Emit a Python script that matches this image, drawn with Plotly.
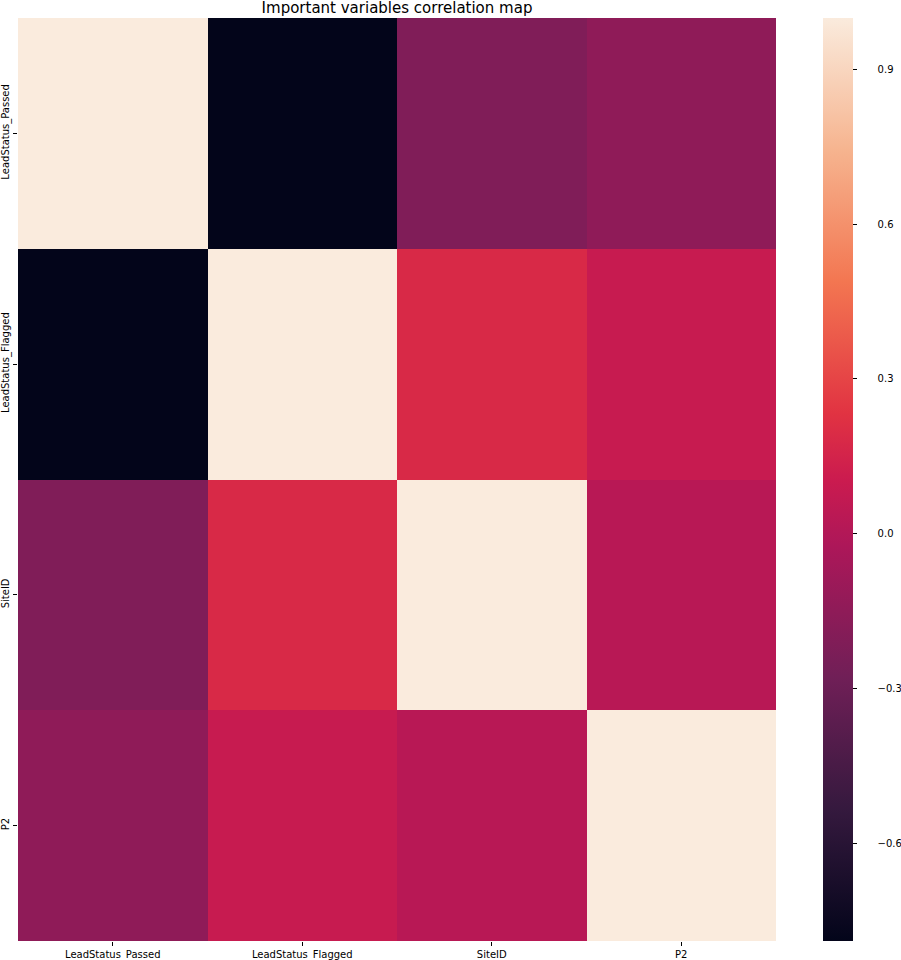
import plotly.graph_objects as go

labels = ["LeadStatus_Passed", "LeadStatus_Flagged", "SiteID", "P2"]
corr = [
    [1.00, -0.79, -0.21, -0.15],
    [-0.79, 1.00, 0.18, 0.09],
    [-0.21, 0.18, 1.00, 0.025],
    [-0.15, 0.09, 0.025, 1.00],
]
cbar_ticks = [-0.6, -0.3, 0.0, 0.3, 0.6, 0.9]
cbar_text = ["\u2007\u2007\u2007" + f"{v:.1f}".replace("-", "\u2212") for v in cbar_ticks]

rocket = [
    [0.0, "#03051a"],
    [1/7, "#35193e"],
    [2/7, "#701f57"],
    [3/7, "#ad1759"],
    [0.5, "#cb1b4f"],
    [4/7, "#e13342"],
    [5/7, "#f37651"],
    [6/7, "#f6b48f"],
    [1.0, "#faebdd"],
]

W, H = 901, 960
L, R, T, B = 18, 125, 18, 19
pw = W - L - R

fig = go.Figure(go.Heatmap(
    z=corr, x=labels, y=labels,
    colorscale=rocket, zmin=-0.79, zmax=1.0,
    xgap=0, ygap=0,
    colorbar=dict(
        thickness=30, thicknessmode="pixels",
        len=1, lenmode="fraction", y=0.5, yanchor="middle",
        x=(823 - L) / pw, xanchor="left", xpad=0, ypad=0,
        outlinewidth=0,
        tickmode="array", tickvals=cbar_ticks, ticktext=cbar_text,
        ticks="outside", ticklen=4, tickwidth=1, tickcolor="#000",
        tickfont=dict(family="DejaVu Sans", size=10, color="#000"),
    ),
    hovertemplate="%{y} / %{x}: %{z:.2f}<extra></extra>",
))

fig.update_layout(
    width=W, height=H,
    margin=dict(l=L, r=R, t=T, b=B, pad=0, autoexpand=False),
    paper_bgcolor="white", plot_bgcolor="white",
    font=dict(family="DejaVu Sans", color="#000"),
    title=dict(
        text="Important variables correlation map",
        x=(L + pw / 2) / W, xanchor="center",
        y=1 - 7.5 / H, yanchor="middle", yref="container",
        pad=dict(t=0, b=0),
        font=dict(family="DejaVu Sans", size=15, color="#000"),
    ),
    xaxis=dict(
        showgrid=False, zeroline=False, showline=False, automargin=False,
        ticks="outside", ticklen=4, tickcolor="#000",
        tickfont=dict(size=10), tickangle=0,
    ),
    yaxis=dict(
        showgrid=False, zeroline=False, showline=False, automargin=False,
        autorange="reversed",
        ticks="outside", ticklen=4, tickcolor="#000",
        tickfont=dict(size=10), tickangle=-90,
    ),
)

fig.write_html("out.html")
